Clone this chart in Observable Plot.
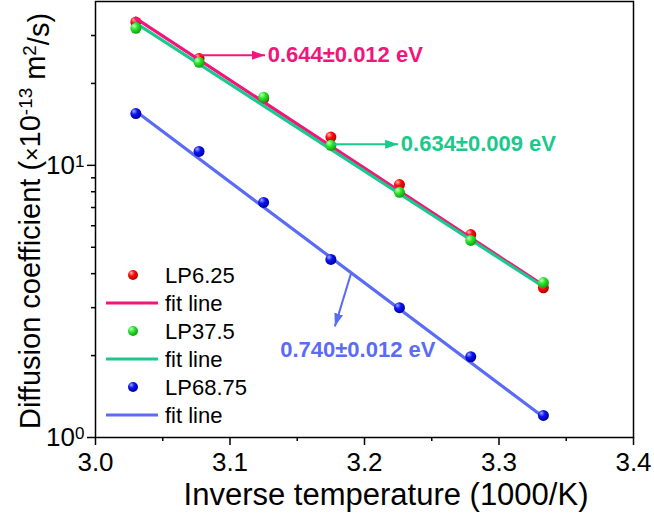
<!DOCTYPE html>
<html>
<head>
<meta charset="utf-8">
<script src="https://cdn.jsdelivr.net/npm/d3@7"></script>
<script src="https://cdn.jsdelivr.net/npm/@observablehq/plot@0.6"></script>
<style>
  body { margin: 0; background: #fff; }
  #chart { width: 654px; height: 518px; }
  svg { font-family: "Liberation Sans", Arial, sans-serif; }
</style>
</head>
<body>
<div id="chart"></div>
<script>
// ---- data ----
const invT = [3.030, 3.077, 3.125, 3.175, 3.226, 3.279, 3.333];
const lp625 = [33.6, 24.7, 17.6, 12.7, 8.5, 5.57, 3.55];
const lp375 = [31.9, 23.9, 17.8, 11.85, 7.96, 5.30, 3.71];
const lp6875 = [15.5, 11.25, 7.31, 4.51, 3.0, 1.98, 1.205];

const fitX = [3.030, 3.333];
const fit625 = [34.7, 3.62];
const fit375 = [33.3, 3.58];
const fit6875 = [15.8, 1.19];

const seriesNames = ["LP6.25", "LP37.5", "LP68.75"];
const fitName = "fit line";
const energyLabels = ["0.644\u00B10.012 eV", "0.634\u00B10.009 eV", "0.740\u00B10.012 eV"];
const arrowFromX = [3.078, 3.177, 3.190];
const arrowFromY = [25.4, 11.95, 4.01];
const arrowToX = [3.126, 3.225, 3.178];
const arrowToY = [25.4, 11.95, 2.56];
const labelX = [3.128, 3.227, 3.195];
const labelY = [25.4, 11.95, 2.09];

const xMajor = [3.0, 3.1, 3.2, 3.3, 3.4];
const xMinor = [3.05, 3.15, 3.25, 3.35];
const yMajor = [1, 10];
const yMinor = [2, 3, 4, 5, 6, 7, 8, 9, 20, 30];

const xLabel = "Inverse temperature (1000/K)";

// ---- styles ----
const fitColors = ["#F2157C", "#1BC98C", "#5A6CF6"];
const ballBase = ["#FF0A0A", "#2EE82E", "#0A14F0"];
const ballLight = ["#FFB8B8", "#C8FFC8", "#9FA8FF"];
const ballDark = ["#B80000", "#12A012", "#0000A0"];
const labelAnchor = ["start", "start", "middle"];

// ---- tables ----
const allSeries = [lp625, lp375, lp6875];
const allFits = [fit625, fit375, fit6875];
const points = allSeries.map(vals => invT.map((x, i) => ({x, y: vals[i]})));
const fits = allFits.map(vals => fitX.map((x, i) => ({x, y: vals[i]})));

const arrowHead = (color, context) => {
  const m = d3.create("svg:marker")
    .attr("viewBox", "-13 -5 14 10")
    .attr("markerWidth", 14)
    .attr("markerHeight", 10)
    .attr("markerUnits", "userSpaceOnUse")
    .attr("refX", 0).attr("refY", 0)
    .attr("orient", "auto");
  m.append("path").attr("d", "M-13,-4.5L0,0L-13,4.5Z").attr("fill", color).attr("stroke", "none");
  return m.node();
};

const ballMarks = (k) => Plot.dot(points[k], {x: "x", y: "y", r: 5.5, fill: `url(#ball${k})`, stroke: "none"});
const fitMark = (k) => Plot.line(fits[k], {x: "x", y: "y", stroke: fitColors[k], strokeWidth: 3.2});
const arrowMark = (k) => Plot.link([{x1: arrowFromX[k], y1: arrowFromY[k], x2: arrowToX[k], y2: arrowToY[k]}],
  {x1: "x1", y1: "y1", x2: "x2", y2: "y2", stroke: fitColors[k], strokeWidth: 2, markerEnd: arrowHead});
const labelMark = (k) => Plot.text([{x: labelX[k], y: labelY[k], t: energyLabels[k]}],
  {x: "x", y: "y", text: "t", fill: fitColors[k], textAnchor: labelAnchor[k], fontSize: 22, fontWeight: "bold", lineAnchor: "middle"});

const plot = Plot.plot({
  width: 654,
  height: 518,
  marginLeft: 95,
  marginRight: 21,
  marginTop: 1,
  marginBottom: 81,
  style: {fontFamily: "'Liberation Sans', Arial, sans-serif", color: "black", background: "white"},
  x: {domain: [3.0, 3.4]},
  y: {type: "log", domain: [1, 40]},
  marks: [
    Plot.axisX({ticks: xMajor, tickSize: 8, tickPadding: 7, strokeWidth: 1.5, fontSize: 26, tickFormat: d3.format(".1f"), label: null}),
    Plot.axisX({ticks: xMinor, tickSize: 4, strokeWidth: 1.5, tickFormat: () => "", label: null}),
    Plot.axisY({ticks: yMajor, tickSize: 8, tickPadding: 3, strokeWidth: 1.5, fontSize: 26, tickFormat: d => `10^${Math.round(Math.log10(d))}`, label: null}),
    Plot.axisY({ticks: yMinor, tickSize: 4, strokeWidth: 1.5, tickFormat: () => "", label: null}),
    ballMarks(0),
    fitMark(0),
    fitMark(1),
    ballMarks(1),
    fitMark(2),
    ballMarks(2),
    arrowMark(0), arrowMark(1), arrowMark(2),
    labelMark(0), labelMark(1), labelMark(2),
    Plot.frame({stroke: "black", strokeWidth: 1.5})
  ]
});

document.getElementById("chart").appendChild(plot);

const svg = d3.select(plot);

// sphere gradients
const defs = svg.insert("defs", ":first-child");
ballBase.forEach((c, k) => {
  const g = defs.append("radialGradient").attr("id", `ball${k}`)
    .attr("cx", "38%").attr("cy", "35%").attr("r", "65%").attr("fx", "32%").attr("fy", "28%");
  g.append("stop").attr("offset", "0%").attr("stop-color", ballLight[k]);
  g.append("stop").attr("offset", "45%").attr("stop-color", c);
  g.append("stop").attr("offset", "100%").attr("stop-color", ballDark[k]);
});

// tick label font sizes
svg.selectAll('g[aria-label="x-axis tick label"] text, g[aria-label="y-axis tick label"] text')
  .style("font-size", "26px");

// superscript tick labels 10^n
svg.selectAll('g[aria-label="y-axis tick label"] text').each(function () {
  const s = this.textContent;
  if (!s.includes("^")) return;
  const [base, exp] = s.split("^");
  const t = d3.select(this);
  t.text(base);
  t.append("tspan").attr("dy", "-0.42em").style("font-size", "17px").text(exp);
});

// axis titles
const W = 654, H = 518, mL = 95, mR = 21, mT = 1, mB = 81;
const ylab = svg.append("text")
  .attr("transform", `translate(40,${(mT + H - mB) / 2 + 2}) rotate(-90)`)
  .attr("text-anchor", "middle")
  .attr("font-size", 29)
  .attr("fill", "black");
ylab.append("tspan").text("Diffusion coefficient (");
ylab.append("tspan").attr("font-size", "0.8em").text("\u00D7");
ylab.append("tspan").text("10");
ylab.append("tspan").attr("dy", "-0.45em").attr("font-size", "0.65em").text("-13");
ylab.append("tspan").attr("dy", "0.45em").text(" m");
ylab.append("tspan").attr("dy", "-0.45em").attr("font-size", "0.65em").text("2");
ylab.append("tspan").attr("dy", "0.45em").text("/s)");

svg.append("text")
  .attr("x", 386).attr("y", 505)
  .attr("text-anchor", "middle")
  .attr("font-size", 31)
  .attr("fill", "black")
  .text(xLabel);

// legend (inside plot, lower-left)
const leg = svg.append("g").attr("transform", "translate(106,275)");
const legendItems = [];
seriesNames.forEach((n, k) => {
  legendItems.push({type: "dot", k, text: n});
  legendItems.push({type: "line", k, text: fitName});
});
legendItems.forEach((d, j) => {
  const g = leg.append("g").attr("transform", `translate(0,${j * 28})`);
  if (d.type === "dot") {
    g.append("circle").attr("cx", 27).attr("cy", 0).attr("r", 5).attr("fill", `url(#ball${d.k})`);
  } else {
    g.append("line").attr("x1", 0).attr("x2", 52).attr("y1", 0).attr("y2", 0)
      .attr("stroke", fitColors[d.k]).attr("stroke-width", 3.2);
  }
  g.append("text").attr("x", 59).attr("y", 0).attr("dy", "0.35em")
    .attr("text-anchor", "start")
    .attr("font-size", 22).attr("fill", "black").text(d.text);
});
</script>
</body>
</html>
